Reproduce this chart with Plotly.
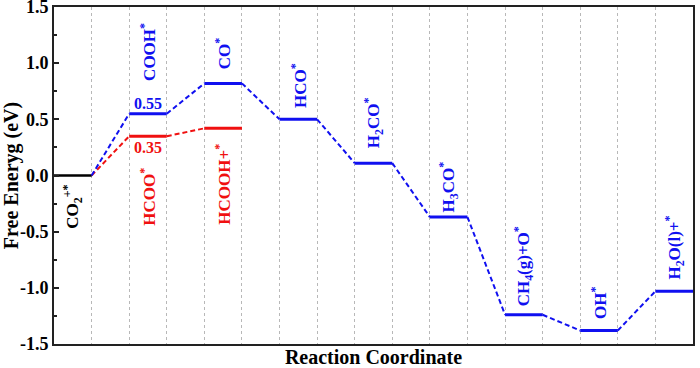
import plotly.graph_objects as go

# ---- data ----
blue_species = ["CO<sub>2</sub><sup>+*</sup>", "COOH<sup>*</sup>", "CO<sup>*</sup>", "HCO<sup>*</sup>",
                "H<sub>2</sub>CO<sup>*</sup>", "H<sub>3</sub>CO<sup>*</sup>",
                "CH<sub>4</sub>(g)+O<sup>*</sup>", "OH<sup>*</sup>", "H<sub>2</sub>O(l)+<sup>*</sup>"]
blue_energy = [0.00, 0.55, 0.82, 0.50, 0.11, -0.37, -1.24, -1.38, -1.03]
red_species = ["CO<sub>2</sub><sup>+*</sup>", "HCOO<sup>*</sup>", "HCOOH+<sup>*</sup>"]
red_energy = [0.00, 0.35, 0.42]
value_labels = ["0.55", "0.35"]
y_ticks = [-1.5, -1.0, -0.5, 0.0, 0.5, 1.0, 1.5]
y_ticktext = ["-1.5", "-1.0", "-0.5", "0.0", "0.5", "1.0", "1.5"]

BLUE = "#1010f0"
RED = "#f01010"
BLACK = "#000000"
FONT = "Liberation Serif"

fig = go.Figure()

def add_path(energies, color, first_color):
    n = len(energies)
    for i, e in enumerate(energies):
        x0 = 2 * i
        c = first_color if i == 0 else color
        fig.add_trace(go.Scatter(x=[x0, x0 + 1], y=[e, e], mode="lines",
                                 line=dict(color=c, width=3 if i else 2.2),
                                 showlegend=False, hoverinfo="skip"))
        if i + 1 < n:
            fig.add_trace(go.Scatter(x=[x0 + 1, x0 + 2], y=[e, energies[i + 1]], mode="lines",
                                     line=dict(color=color, width=2, dash="5px,3px"),
                                     showlegend=False, hoverinfo="skip"))

add_path(red_energy, RED, BLACK)
add_path(blue_energy, BLUE, BLACK)

# ---- label placement (layout) ----
blue_label_y = [-0.28, 1.10, 1.09, 0.80, 0.47, -0.10, -0.81, -1.135, -0.64]
red_label_y = [None, -0.19, -0.08]
LABEL_SIZE = 17

for i, (name, ly) in enumerate(zip(blue_species, blue_label_y)):
    fig.add_annotation(x=2 * i + 0.5, y=ly, text=name, textangle=-90, showarrow=False,
                       xanchor="center", yanchor="middle",
                       font=dict(family=FONT, size=LABEL_SIZE, color=BLACK if i == 0 else BLUE, weight="bold"))
for i, (name, ly) in enumerate(zip(red_species, red_label_y)):
    if i == 0:
        continue
    fig.add_annotation(x=2 * i + 0.5, y=ly, text=name, textangle=-90, showarrow=False,
                       xanchor="center", yanchor="middle",
                       font=dict(family=FONT, size=LABEL_SIZE, color=RED, weight="bold"))

fig.add_annotation(x=2.5, y=blue_energy[1], text=value_labels[0], showarrow=False,
                   xanchor="center", yanchor="bottom", yshift=0,
                   font=dict(family=FONT, size=16, color=BLUE, weight="bold"))
fig.add_annotation(x=2.5, y=red_energy[1], text=value_labels[1], showarrow=False,
                   xanchor="center", yanchor="top", yshift=-1,
                   font=dict(family=FONT, size=16, color=RED, weight="bold"))

fig.update_layout(
    width=700, height=368,
    margin=dict(l=54, r=7, t=7, b=24),
    paper_bgcolor="white", plot_bgcolor="white",
    font=dict(family=FONT, color=BLACK),
    showlegend=False,
)
fig.update_xaxes(range=[0, 17], dtick=1, tick0=0, showgrid=True, gridcolor="#b8b8b8",
                 griddash="dot", gridwidth=1, zeroline=False, showticklabels=False, ticks="",
                 showline=True, linecolor="#222", linewidth=2, mirror=True, automargin=False,
                 title=dict(text="Reaction Coordinate", standoff=6,
                            font=dict(family=FONT, size=20, weight="bold")))
fig.update_yaxes(range=[-1.5, 1.5000001], tickvals=y_ticks, ticktext=y_ticktext, showgrid=False,
                 zeroline=False, ticks="inside", ticklen=5, tickwidth=1.5, tickcolor="#222",
                 ticklabeloverflow="allow",
                 minor=dict(dtick=0.25, tick0=0, ticks="inside", ticklen=3, tickwidth=1.5, tickcolor="#222"),
                 tickfont=dict(family=FONT, size=18, weight="bold"),
                 showline=True, linecolor="#222", linewidth=2, mirror=True, automargin=False,
                 title=dict(text="Free Eneryg (eV)", standoff=5,
                            font=dict(family=FONT, size=20, weight="bold")))

fig.write_html("out.html", config={"displayModeBar": False},
               post_script="document.body.style.margin='0px';document.body.style.overflow='hidden';")
